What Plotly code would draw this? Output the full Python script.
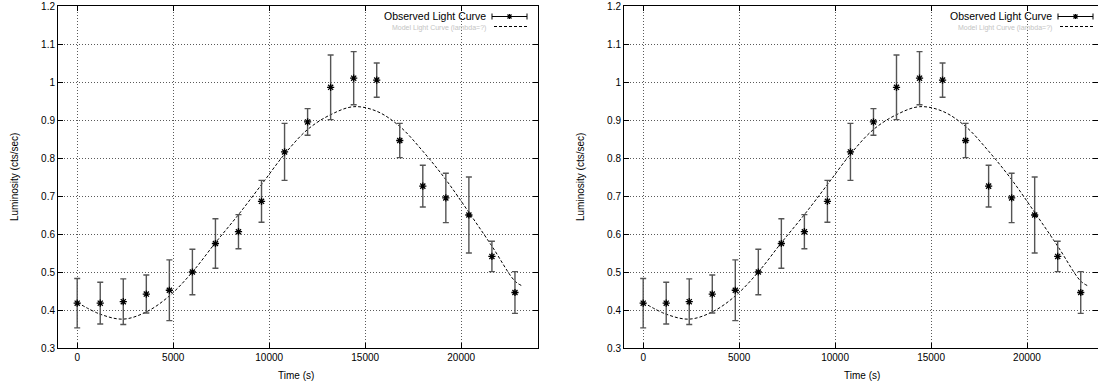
import plotly.graph_objects as go

# ---------------- data ----------------
time_s = [0, 1200, 2400, 3600, 4800, 6000, 7200, 8400, 9600, 10800,
          12000, 13200, 14400, 15600, 16800, 18000, 19200, 20400, 21600, 22800]
lum = [0.418, 0.418, 0.422, 0.442, 0.452, 0.500, 0.575, 0.606, 0.686, 0.816,
       0.895, 0.986, 1.010, 1.005, 0.846, 0.726, 0.695, 0.650, 0.541, 0.446]
lum_err = [0.065, 0.055, 0.060, 0.050, 0.080, 0.060, 0.065, 0.045, 0.055, 0.075,
           0.035, 0.085, 0.070, 0.045, 0.045, 0.055, 0.065, 0.100, 0.040, 0.055]

model_t = [0, 1200, 2400, 3600, 4800, 6000, 7200, 8400, 9600, 10800, 12000,
           13200, 14400, 15600, 16800, 18000, 19200, 20400, 21600, 22800, 23200]
model_l = [0.420, 0.389, 0.376, 0.395, 0.437, 0.500, 0.577, 0.651, 0.730, 0.810, 0.875,
           0.914, 0.935, 0.923, 0.883, 0.818, 0.743, 0.657, 0.568, 0.476, 0.463]

x_ticks = [0, 5000, 10000, 15000, 20000]
x_ticklabels = ["0", "5000", "10000", "15000", "20000"]
y_ticks = [0.3, 0.4, 0.5, 0.6, 0.7, 0.8, 0.9, 1.0, 1.1, 1.2]
y_ticklabels = ["0.3", "0.4", "0.5", "0.6", "0.7", "0.8", "0.9", "1", "1.1", "1.2"]

legend_obs = "Observed Light Curve"
legend_model = "Model Light Curve (lambda=?)"
x_title = "Time (s)"
y_title = "Luminosity (cts/sec)"

# ---------------- layout helpers ----------------
W, H = 1098, 387
FONT = "Liberation Sans"


def px(x):
    return x / W


def py(y):
    return 1 - y / H


fig = go.Figure()

panels = [
    dict(xa="x", ya="y", xname="xaxis", yname="yaxis", off=0,
         dom=[px(58), px(538)], xr=[-1000, 24000]),
    dict(xa="x2", ya="y2", xname="xaxis2", yname="yaxis2", off=566,
         dom=[px(624), 1.0], xr=[-1000, 23700]),
]

shapes = []
annotations = []

for p in panels:
    fig.add_trace(go.Scatter(
        x=model_t, y=model_l, mode="lines", line_shape="spline",
        line=dict(color="black", width=1, dash="3px,2px"),
        xaxis=p["xa"], yaxis=p["ya"], showlegend=False, hoverinfo="skip"))
    fig.add_trace(go.Scatter(
        x=time_s, y=lum, mode="markers",
        marker=dict(symbol="asterisk-open", size=6, color="black",
                    line=dict(color="black", width=1.3)),
        error_y=dict(type="data", array=lum_err, visible=True,
                     color="#555555", thickness=1.4, width=3),
        xaxis=p["xa"], yaxis=p["ya"], showlegend=False))

    axis_common = dict(showline=True, linecolor="black", linewidth=1, mirror="ticks",
                       ticks="inside", ticklen=5, tickcolor="black", tickwidth=1,
                       showgrid=True, gridcolor="#5a5a5a", griddash="1px,2px", gridwidth=1,
                       zeroline=False, automargin=False,
                       tickfont=dict(family=FONT, size=10, color="black"))
    fig.layout[p["xname"]] = dict(domain=p["dom"], range=p["xr"], anchor=p["ya"],
                                  tickvals=x_ticks, ticktext=x_ticklabels, **axis_common)
    fig.layout[p["yname"]] = dict(domain=[py(348), py(6)], range=[0.3, 1.2], anchor=p["xa"],
                                  tickvals=y_ticks, ticktext=y_ticklabels, **axis_common)

    o = p["off"]
    # axis titles
    annotations.append(dict(text=x_title, x=px(296 + o), y=py(375), xref="paper", yref="paper",
                            showarrow=False, font=dict(family=FONT, size=10, color="black"),
                            xanchor="center", yanchor="middle"))
    annotations.append(dict(text=y_title, x=px(15 + o), y=py(177), xref="paper", yref="paper",
                            showarrow=False, textangle=-90,
                            font=dict(family=FONT, size=10, color="black"),
                            xanchor="center", yanchor="middle"))
    # legend (gnuplot style: text then sample)
    annotations.append(dict(text=legend_obs, x=px(488 + o), y=py(16.5), xref="paper", yref="paper",
                            showarrow=False, font=dict(family=FONT, size=10.5, color="black"),
                            xanchor="right", yanchor="middle"))
    annotations.append(dict(text=legend_model, x=px(488 + o), y=py(28), xref="paper", yref="paper",
                            showarrow=False, font=dict(family=FONT, size=7, color="#c4c4c4"),
                            xanchor="right", yanchor="middle"))
    ly = py(16.5)
    x0, x1 = 492 + o, 527 + o
    shapes.append(dict(type="line", xref="paper", yref="paper", x0=px(x0), x1=px(x1), y0=ly, y1=ly,
                       line=dict(color="black", width=1)))
    for xc in (x0, x1):
        shapes.append(dict(type="line", xref="paper", yref="paper", x0=px(xc), x1=px(xc),
                           y0=py(13.5), y1=py(19.5), line=dict(color="black", width=1)))
    cx = (x0 + x1) / 2
    for (dx0, dy0, dx1, dy1) in [(-2.5, 0, 2.5, 0), (0, -2.5, 0, 2.5), (-2, -2, 2, 2), (-2, 2, 2, -2)]:
        shapes.append(dict(type="line", xref="paper", yref="paper",
                           x0=px(cx + dx0), x1=px(cx + dx1), y0=py(16.5 + dy0), y1=py(16.5 + dy1),
                           line=dict(color="black", width=1.2)))
    shapes.append(dict(type="line", xref="paper", yref="paper", x0=px(494 + o), x1=px(527 + o),
                       y0=py(26.5), y1=py(26.5), line=dict(color="black", width=1, dash="3px,2px")))

fig.update_layout(width=W, height=H,
                  margin=dict(l=0, r=0, t=0, b=0, pad=0, autoexpand=False),
                  paper_bgcolor="white", plot_bgcolor="white",
                  shapes=shapes, annotations=annotations, showlegend=False)

fig.write_html("out.html", config={"displayModeBar": False},
               post_script="document.body.style.margin='0';document.body.style.overflow='hidden';")
